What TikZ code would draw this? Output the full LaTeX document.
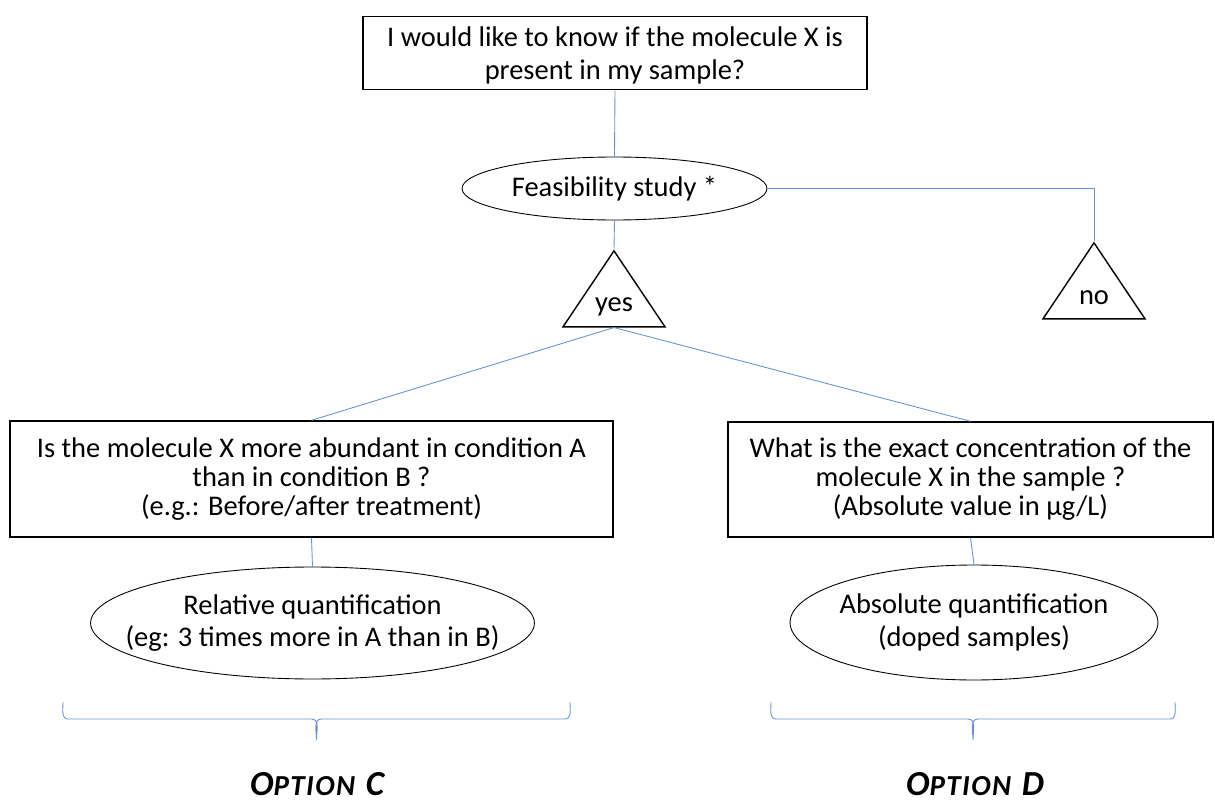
\documentclass[tikz,border=0pt]{standalone}
\usepackage{fontspec}
\setmainfont{Carlito}
\usetikzlibrary{shapes.geometric}
\definecolor{linkBlue}{RGB}{105,145,215}
\newcommand{\optname}[1]{{\fontsize{20}{22}\selectfont O}{\fontsize{16.5}{20}\selectfont\addfontfeature{LetterSpace=5}PTION}{\fontsize{20}{22}\selectfont\hspace{0.3em}#1}}

\begin{document}
\begin{tikzpicture}[
  x=0.02cm, y=0.02cm,
  every node/.style={font=\fontsize{16.2}{18.5}\selectfont},
  qbox/.style={rectangle, draw, line width=0.8pt, align=center},
  tightbox/.style={qbox, font=\fontsize{16.2}{16.5}\selectfont},
  oval/.style={ellipse, draw, line width=0.5pt, inner xsep=-0.6cm,
               inner ysep=0pt, align=center},
  tri/.style={isosceles triangle, isosceles triangle stretches,
              shape border rotate=90, draw, line width=0.8pt, inner sep=0pt},
  link/.style={linkBlue, line width=0.5pt},
  bracket/.style={linkBlue, line width=0.5pt},
  optlabel/.style={font=\bfseries\itshape, anchor=base, inner sep=0pt}
]
  \useasboundingbox (0,0) rectangle (1215,-801);

  \node[qbox, minimum width=10.08cm, minimum height=1.44cm]
    (ask) at (615,-53) {\rule{0pt}{14pt}I would like to know if the molecule X is\\present in my sample?};
  \node[oval, minimum width=6.1cm, minimum height=1.26cm]
    (feas) at (614.5,-188.5) {Feasibility study *};
  \node[tri, minimum width=2.04cm, minimum height=1.52cm, anchor=apex]
    (yes) at (614,-249) {yes};
  \node[tri, minimum width=2.04cm, minimum height=1.52cm, anchor=apex]
    (no) at (1094,-241) {no};

  \node[tightbox, minimum width=12.06cm, minimum height=2.32cm]
    (relQ) at (311.5,-479) {Is the molecule X more abundant in condition A\\than in condition B ?\\(e.g.: Before/after treatment)};
  \node[tightbox, minimum width=9.7cm, minimum height=2.3cm]
    (absQ) at (970.5,-479.5) {What is the exact concentration of the\\molecule X in the sample ?\\(Absolute value in µg/L)};

  \node[oval, minimum width=8.7cm, minimum height=2.24cm]
    (relQuant) at (312.5,-623) {Relative quantification\\(eg: 3 times more in A than in B)};
  \node[oval, minimum width=7.36cm, minimum height=2.3cm]
    (absQuant) at (974,-622.5) {Absolute quantification\\(doped samples)};

  % connectors
  \draw[link] (ask.south) -- (feas.north);
  \draw[link] (feas.east) -| (no.apex);
  \draw[link] (feas.south) -- (yes.apex);
  \draw[link] (yes.lower side) -- (relQ.north);
  \draw[link] (yes.lower side) -- (absQ.north);
  \draw[link] (relQ.south) -- (relQuant.north);
  \draw[link] (absQ.south) -- (absQuant.north);

  % braces under the two options
  \foreach \lx/\rx in {63/570, 771/1175} {
    \pgfmathsetmacro\mx{(\lx+\rx)/2}
    \draw[bracket] (\lx,-702) to[out=-90,in=180] (\lx+5,-719)
      -- (\mx-5,-719) to[out=0,in=90] (\mx,-740)
      to[out=90,in=180] (\mx+5,-719) -- (\rx-5,-719)
      to[out=0,in=-90] (\rx,-702);
  }

  \node[optlabel] (optC) at (317,-795) {\optname{C}};
  \node[optlabel] (optD) at (975,-795) {\optname{D}};
\end{tikzpicture}
\end{document}
